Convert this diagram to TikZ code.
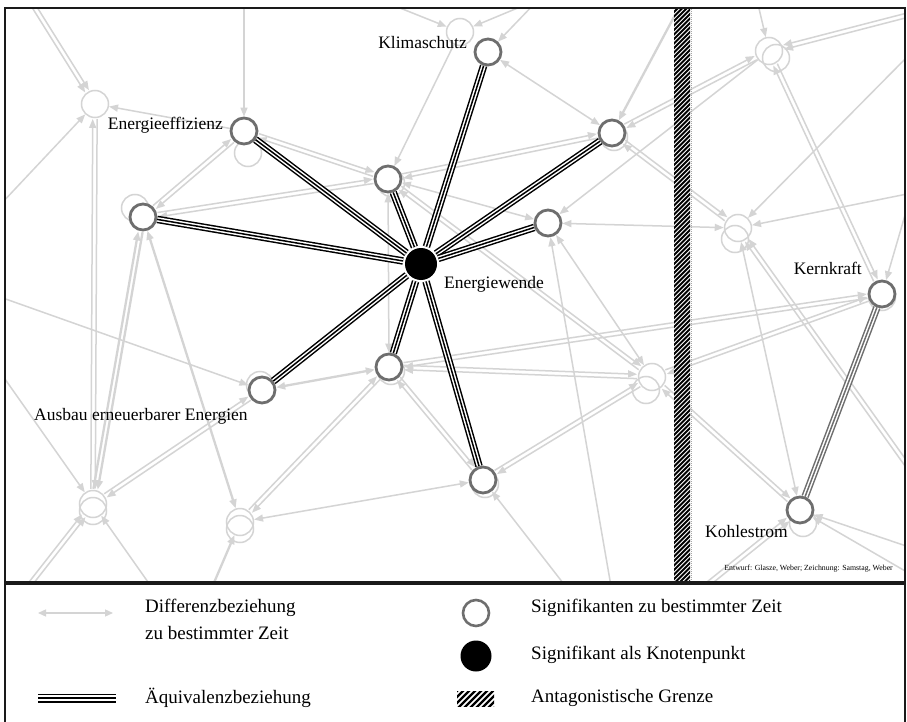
\documentclass[tikz,border=0pt]{standalone}
\usepackage{fontspec}
\setmainfont{Liberation Serif}
\usetikzlibrary{arrows.meta,calc}
\pgfdeclarelayer{bg}
\pgfdeclarelayer{mid}
\pgfsetlayers{bg,mid,main}
\definecolor{lg}{HTML}{D4D4D4}
\definecolor{ng}{HTML}{6E6E6E}
\definecolor{fr}{HTML}{1A1A1A}
\tikzset{
  garrow/.style={draw=lg, line width=1.5pt, >={Triangle[length=9pt,width=7pt]}, ->},
  gboth/.style={garrow, <->},
  gthick/.style={line width=2.3pt},
  pr/.style={shorten <=15pt, shorten >=15pt},
  ps/.style={shorten >=15pt},
  sig/.style={circle, draw=ng, line width=2.8pt, fill=white, minimum size=26pt, inner sep=0pt},
  ghost/.style={circle, draw=lg, line width=1.5pt, minimum size=27pt, inner sep=0pt},
  hub/.style={circle, fill=black, minimum size=32pt, inner sep=0pt},
  eq/.style={line width=7.5pt, draw=black, postaction={draw=white, line width=4.5pt}, postaction={draw=black, line width=1.5pt}},
  eqgray/.style={line width=7.5pt, draw=ng, postaction={draw=white, line width=4.5pt}, postaction={draw=ng, line width=1.5pt}},
  eqleg/.style={line width=9pt, draw=black, postaction={draw=white, line width=5.4pt}, postaction={draw=black, line width=1.8pt}},
  lbl/.style={font=\fontsize{17.5}{20}\selectfont, inner sep=0pt},
  leg/.style={font=\fontsize{19}{22}\selectfont, inner sep=0pt, anchor=west}
}
\newcommand\twoway[3][]{%
  \draw[garrow,pr,#1] ($(#2)!2.2pt!90:(#3)$) -- ($(#3)!2.2pt!-90:(#2)$);
  \draw[garrow,pr,#1] ($(#3)!2.2pt!90:(#2)$) -- ($(#2)!2.2pt!-90:(#3)$);}
\newcommand\twosame[3][]{%
  \draw[garrow,ps,#1] ($(#2)!2.2pt!90:(#3)$) -- ($(#3)!2.2pt!-90:(#2)$);
  \draw[garrow,ps,#1] ($(#2)!2.2pt!-90:(#3)$) -- ($(#3)!2.2pt!90:(#2)$);}
\begin{document}
\begin{tikzpicture}[x=1pt,y=-1pt]
\useasboundingbox (0,0) rectangle (907,722);
\begin{pgfonlayer}{bg}
\fill[white] (0,0) rectangle (907,722);
% ghost signifiers and shadows
\node[ghost] (gK) at (460,32) {};
\node[ghost] (gTL) at (95,104) {};
\node[ghost] (gBLb) at (93,511) {};
\node[ghost] (gBL) at (93,504) {};
\node[ghost] (gBMb) at (240,529) {};
\node[ghost] (gBM) at (240,522) {};
\node[ghost] (gMb) at (646,390) {};
\node[ghost] (gM) at (652,377) {};
\node[ghost] (gRTb) at (776,58) {};
\node[ghost] (gRT) at (769,51) {};
\node[ghost] (gRMb) at (735,239) {};
\node[ghost] (gRM) at (738,228) {};
\node[ghost] (sE) at (248,153) {};
\node[ghost] (sL) at (135,208) {};
\node[ghost] (sC) at (391,183) {};
\node[ghost] (sR1) at (614,137) {};
\node[ghost] (sB) at (391,371) {};
\node[ghost] (sA) at (260,385) {};
\node[ghost] (sD) at (485,484) {};
\node[ghost] (sKK) at (882,297) {};
\node[ghost] (sKS) at (803,523) {};
\end{pgfonlayer}

% main signifiers
\node[sig] (K) at (488,52) {};
\node[sig] (E) at (244,131) {};
\node[sig] (L) at (143,217) {};
\node[sig] (C) at (388,179) {};
\node[sig] (R1) at (612,133) {};
\node[sig] (R2) at (548,223) {};
\node[sig] (B) at (389,367) {};
\node[sig] (A) at (262,390) {};
\node[sig] (D) at (483,480) {};
\node[sig] (KK) at (882,294) {};
\node[sig] (KS) at (800,510) {};
\node[hub] (EW) at (421,264) {};

% off-frame ends
\coordinate (o1) at (30,0);
\coordinate (o2) at (244,0);
\coordinate (o3) at (0,205);
\coordinate (o4) at (0,297);
\coordinate (o5) at (0,372);
\coordinate (o6) at (24,592);
\coordinate (o7) at (155,592);
\coordinate (o8) at (210,592);
\coordinate (o9) at (570,592);
\coordinate (o10) at (612,592);
\coordinate (o11) at (380,0);
\coordinate (o12) at (532,2);
\coordinate (o13) at (538,0);
\coordinate (o14) at (683,0);
\coordinate (o15) at (757,0);
\coordinate (o16) at (912,14);
\coordinate (o17) at (912,52);
\coordinate (o18) at (912,193);
\coordinate (o19) at (910,198);
\coordinate (o20) at (912,548);
\coordinate (o21) at (912,575);
\coordinate (o22) at (698,592);
\coordinate (o23) at (912,472);

% difference relations
\begin{pgfonlayer}{bg}
\begin{scope}
\clip (6,9) rectangle (904,582);
\twosame{o1}{gTL}
\draw[garrow] (o2) -- (E);
\draw[garrow] (o3) -- (gTL);
\draw[garrow] (o4) -- (A);
\draw[garrow] (o5) -- (gBL);
\twosame{o6}{gBL}
\draw[garrow] (o7) -- (gBL);
\draw[garrow,gthick] (o8) -- (gBM);
\draw[garrow] (o9) -- (D);
\draw[garrow] (o10) -- (R2);
\draw[garrow] (o11) -- (gK);
\draw[garrow] (o12) -- (gK);
\draw[garrow] (o13) -- (K);
\draw[garrow,gthick] (o14) -- (R1);
\draw[garrow] (o15) -- (gRT);
\twosame{o16}{gRT}
\draw[garrow] (o17) -- (gRM);
\draw[garrow] (o18) -- (gRM);
\draw[garrow] (o19) -- (KK);
\draw[garrow] (o20) -- (KS);
\draw[garrow] (o21) -- (KS);
\twosame{o22}{KS}
\twosame{o23}{gRM}

\twoway{gTL}{gBL}
\twoway[gthick]{L}{gBL}
\draw[gboth,gthick] (L) -- (gBM);
\twoway{A}{gBL}
\draw[gboth,gthick] (A) -- (B);
\twoway{B}{gBM}
\draw[gboth] (gBM) -- (D);
\twoway{E}{L}
\twoway{E}{C}
\twoway{C}{L}
\draw[garrow] (E) -- (gTL);
\draw[garrow] (gK) -- (C);
\draw[gboth] (K) -- (R1);
\twoway{C}{R1}
\draw[gboth] (C) -- (R2);
\twoway{C}{gM}
\draw[gboth] (C) -- (B);
\twoway{R1}{gRT}
\draw[garrow] (gRT) -- (R2);
\twoway{R1}{gRM}
\draw[gboth] (R2) -- (gRM);
\draw[gboth] (R2) -- (gM);
\twoway{B}{gM}
\twoway{B}{KK}
\twoway{gM}{KK}
\twoway{gM}{D}
\twoway{B}{D}
\twoway{gM}{KS}
\twoway{gRT}{KK}
\draw[gboth] (gRM) -- (KS);
\end{scope}
\end{pgfonlayer}

% equivalence relations
\begin{pgfonlayer}{mid}
\foreach \n in {K,E,L,C,R1,R2,B,A,D}{
  \draw[eq, shorten <=2pt] (EW) -- (\n);
}
\draw[eqgray] (KK) -- (KS);
\end{pgfonlayer}

% antagonistic border
\fill[white] (674,8) rectangle (690,583);
\begin{scope}
\clip (674,8) rectangle (690,583);
\foreach \y in {0,4.5,...,620}{
  \draw[line width=1.9pt] (668,\y) -- (696,\y-28);
}
\end{scope}
\draw[gray!70, line width=0.5pt, dash pattern=on 1pt off 1pt] (691,9) -- (691,582);

% frame
\draw[fr, line width=2pt] (5,8) rectangle (905,745);
\draw[fr, line width=3.5pt] (5,583) -- (905,583);

% labels
\node[lbl, anchor=east] (tK) at (467,43) {Klimaschutz};
\node[lbl, anchor=east] (tE) at (223,125) {Energieeffizienz};
\node[lbl, anchor=west] (tEW) at (444,284) {Energiewende};
\node[lbl, anchor=west] (tA) at (34,416) {Ausbau erneuerbarer Energien};
\node[lbl, anchor=east] (tKK) at (862,268) {Kernkraft};
\node[lbl, anchor=west] (tKS) at (705,532) {Kohlestrom};
\node[font=\fontsize{7.8}{9}\selectfont, inner sep=0pt, anchor=east] (cr) at (893,569) {Entwurf: Glasze, Weber; Zeichnung: Samstag, Weber};

% legend
\coordinate (la) at (38,613);
\coordinate (lb) at (113,613);
\draw[gboth, line width=1.3pt, >={Triangle[length=8pt,width=7pt]}] (la) -- (lb);
\node[leg] (l1) at (145,608) {Differenzbeziehung};
\node[leg] (l2) at (145,633) {zu bestimmter Zeit};
\node[circle, draw=ng, line width=2.6pt, minimum size=26pt, inner sep=0pt] (lsig) at (476,613) {};
\node[leg] (l3) at (531,608) {Signifikanten zu bestimmter Zeit};
\node[circle, fill=black, minimum size=31pt, inner sep=0pt] (lhub) at (476,656) {};
\node[leg] (l4) at (531,655) {Signifikant als Knotenpunkt};
\coordinate (lc) at (38,698);
\coordinate (ld) at (116,698);
\draw[eqleg] (lc) -- (ld);
\node[leg] (l5) at (145,698) {Äquivalenzbeziehung};
\begin{scope}
\clip (457,691) rectangle (494,706);
\foreach \x in {440,446,...,500}{
  \draw[line width=2.2pt] (\x,708) -- (\x+18,690);
}
\end{scope}
\node[leg] (l6) at (531,698) {Antagonistische Grenze};
\end{tikzpicture}
\end{document}
